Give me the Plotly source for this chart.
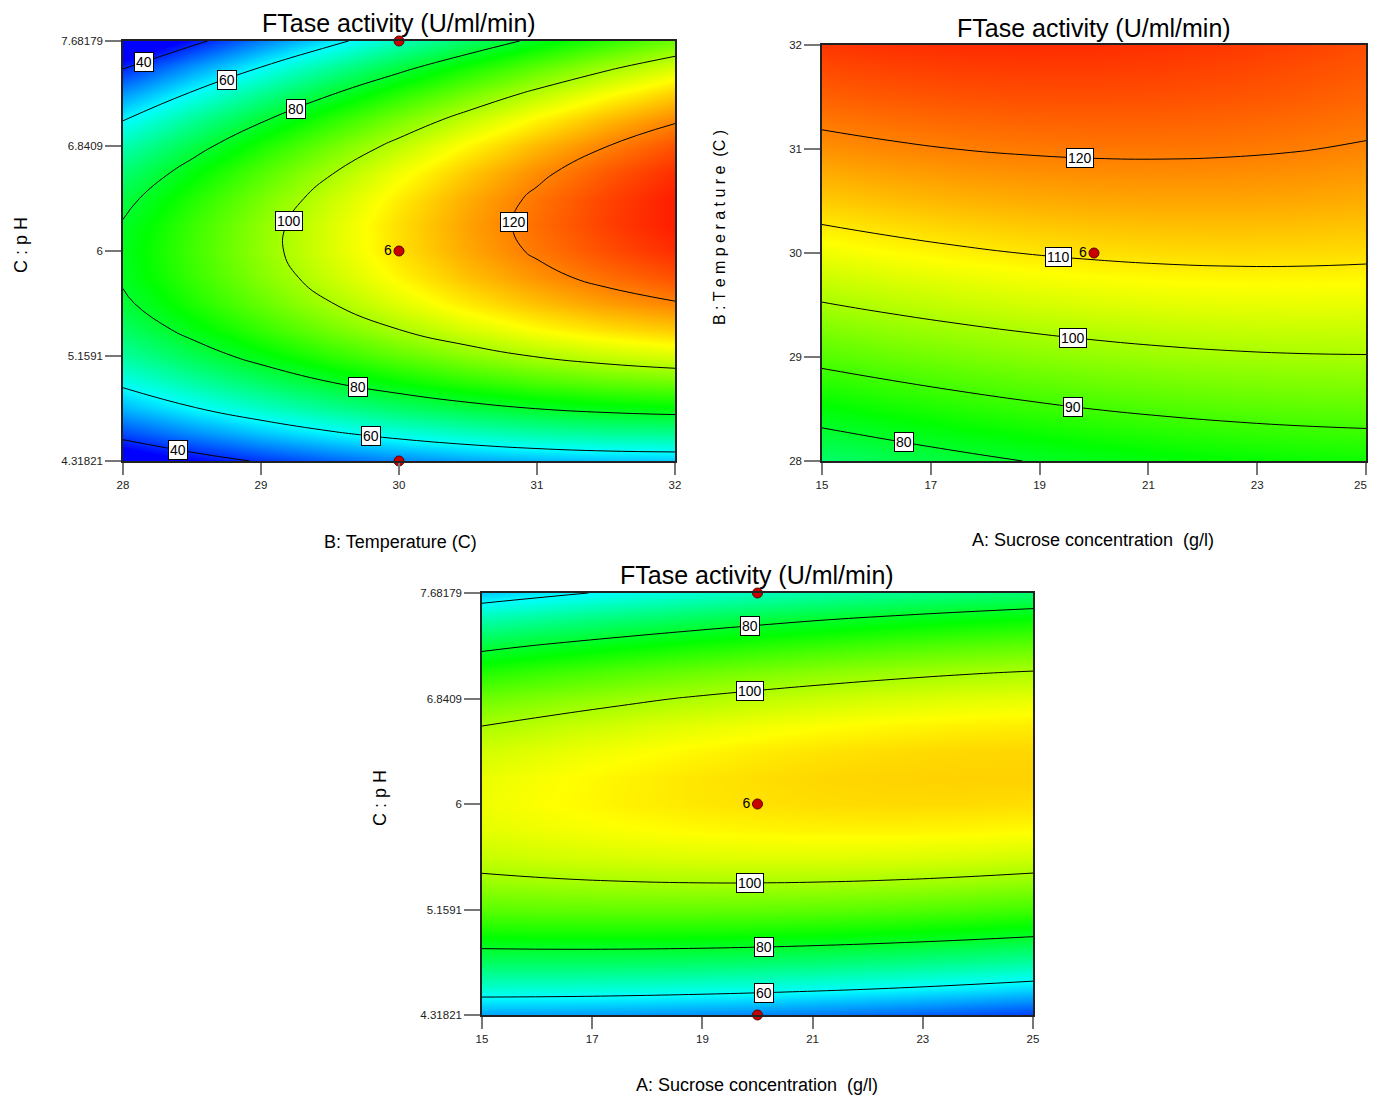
import numpy as np
import plotly.graph_objects as go

temperature_B = [28, 28.5, 29, 29.5, 30, 30.5, 31, 31.5, 32]
sucrose_A = [15, 16.25, 17.5, 18.75, 20, 21.25, 22.5, 23.75, 25]
ph_C_fine = [4.31821, 4.52843, 4.73866, 4.94888, 5.15910, 5.36933, 5.57955, 5.78978, 6.0,
             6.21022, 6.42045, 6.63067, 6.84090, 7.05112, 7.26134, 7.47157, 7.68179]

# FTase activity, rows = pH (low -> high), columns = temperature (28 -> 32), sucrose 20 g/l
activity_temp_ph = [
    [30.05, 35.82, 40.83, 45.07, 48.55, 51.27, 53.23, 54.42, 54.85],
    [42.32, 48.43, 53.77, 58.35, 62.16, 65.21, 67.51, 69.03, 69.80],
    [52.93, 59.37, 65.04, 69.96, 74.11, 77.49, 80.12, 81.98, 83.08],
    [61.87, 68.65, 74.66, 79.90, 84.39, 88.11, 91.07, 93.26, 94.70],
    [69.15, 76.26, 82.60, 88.18, 93.00, 97.06, 100.35, 102.88, 104.65],
    [74.76, 82.20, 88.88, 94.80, 99.95, 104.34, 107.97, 110.83, 112.94],
    [78.71, 86.48, 93.49, 99.74, 105.23, 109.96, 113.92, 117.12, 119.56],
    [80.99, 89.10, 96.44, 103.03, 108.85, 113.91, 118.20, 121.74, 124.51],
    [81.60, 90.04, 97.73, 104.64, 110.80, 116.19, 120.83, 124.69, 127.80],
    [80.55, 89.33, 97.34, 104.60, 111.09, 116.81, 121.78, 125.98, 129.42],
    [77.83, 86.94, 95.29, 102.88, 109.71, 115.77, 121.07, 125.61, 129.38],
    [73.45, 82.90, 91.58, 99.50, 106.66, 113.06, 118.69, 123.56, 127.67],
    [67.40, 77.18, 86.20, 94.46, 101.95, 108.68, 114.65, 119.86, 124.30],
    [59.69, 69.80, 79.16, 87.75, 95.57, 102.64, 108.94, 114.48, 119.26],
    [50.31, 60.76, 70.44, 79.37, 87.53, 94.93, 101.57, 107.44, 112.56],
    [39.26, 50.05, 60.07, 69.33, 77.82, 85.56, 92.53, 98.74, 104.19],
    [26.55, 37.67, 48.03, 57.62, 66.45, 74.52, 81.83, 88.37, 94.15],
]

# rows = temperature (28 -> 32), columns = sucrose (15 -> 25), pH 6
activity_sucrose_temp = [
    [74.09, 76.33, 78.33, 80.09, 81.60, 82.87, 83.90, 84.69, 85.23],
    [83.36, 85.39, 87.19, 88.74, 90.04, 91.11, 91.93, 92.51, 92.85],
    [91.87, 93.69, 95.28, 96.62, 97.73, 98.58, 99.20, 99.57, 99.71],
    [99.61, 101.23, 102.61, 103.75, 104.64, 105.30, 105.71, 105.87, 105.80],
    [106.59, 108.01, 109.18, 110.11, 110.80, 111.25, 111.45, 111.41, 111.13],
    [112.81, 114.02, 114.99, 115.71, 116.19, 116.43, 116.43, 116.19, 115.70],
    [118.27, 119.27, 120.03, 120.55, 120.83, 120.86, 120.65, 120.20, 119.51],
    [122.96, 123.76, 124.31, 124.62, 124.69, 124.52, 124.11, 123.45, 122.55],
    [126.89, 127.48, 127.83, 127.94, 127.80, 127.42, 126.80, 125.94, 124.83],
]

# rows = pH (low -> high), columns = sucrose (15 -> 25), temperature 30
activity_sucrose_ph = [
    [51.34, 51.01, 50.43, 49.61, 48.55, 47.25, 45.70, 43.91, 41.88],
    [64.08, 63.96, 63.60, 63.00, 62.16, 61.08, 59.75, 58.18, 56.37],
    [75.15, 75.25, 75.11, 74.73, 74.11, 73.24, 72.13, 70.78, 69.19],
    [84.55, 84.87, 84.95, 84.79, 84.39, 83.74, 82.85, 81.72, 80.34],
    [92.29, 92.83, 93.13, 93.19, 93.00, 92.57, 91.90, 90.99, 89.83],
    [98.36, 99.12, 99.64, 99.92, 99.95, 99.74, 99.29, 98.59, 97.65],
    [102.77, 103.75, 104.49, 104.98, 105.23, 105.24, 105.01, 104.53, 103.81],
    [105.51, 106.71, 107.67, 108.38, 108.85, 109.08, 109.06, 108.80, 108.30],
    [106.59, 108.01, 109.18, 110.11, 110.80, 111.25, 111.45, 111.41, 111.13],
    [106.00, 107.64, 109.03, 110.18, 111.09, 111.75, 112.17, 112.35, 112.29],
    [103.75, 105.60, 107.21, 108.58, 109.71, 110.59, 111.23, 111.63, 111.79],
    [99.83, 101.90, 103.73, 105.32, 106.66, 107.76, 108.62, 109.24, 109.62],
    [94.24, 96.53, 98.58, 100.39, 101.95, 103.27, 104.35, 105.19, 105.78],
    [86.99, 89.50, 91.77, 93.79, 95.57, 97.11, 98.41, 99.47, 100.28],
    [78.07, 80.80, 83.29, 85.53, 87.53, 89.29, 90.81, 92.08, 93.11],
    [67.49, 70.44, 73.14, 75.60, 77.82, 79.80, 81.54, 83.03, 84.28],
    [55.24, 58.41, 61.33, 64.01, 66.45, 68.65, 70.60, 72.31, 73.78],
]

# design points shown on each slice
design_temp = [30, 30, 30]
design_ph = [7.68179, 6.0, 4.31821]
design_sucrose = [20, 20, 20]
design_AB_sucrose = [20]
design_AB_temp = [30]
center_runs_label = ["", "6", ""]
center_runs_label_AB = ["6"]

ph_tickvals = [4.31821, 5.1591, 6.0, 6.8409, 7.68179]
ph_ticktext = ["4.31821", "5.1591", "6", "6.8409", "7.68179"]
temp_ticks = [28, 29, 30, 31, 32]
sucrose_ticks = [15, 17, 19, 21, 23, 25]
sucrose_ticktext = ["15", "17", "19", "21", "23", "25"]

TITLE = "FTase activity (U/ml/min)"

# ---------------- figure ----------------
# page body has an 8 px margin; size the figure so the page is exactly the window size
OFF = 8
W, H = 1377 - 2 * OFF, 1105 - 2 * OFF
FONT = "Liberation Sans, Arial, Helvetica, sans-serif"
colorscale = [[0.0, "rgb(0,0,255)"], [0.25, "rgb(0,255,255)"], [0.5, "rgb(0,255,0)"],
              [0.75, "rgb(255,255,0)"], [1.0, "rgb(255,0,0)"]]
ZMIN, ZMAX = 36, 132
TICKFONT = dict(family=FONT, size=11.5, color="#222")


def px_x(p):
    return (p - OFF) / W


def px_y(p):
    return 1 - (p - OFF) / H


fig = go.Figure()

panels = [
    dict(ax="", x=temperature_B, y=ph_C_fine, z=activity_temp_ph, levels=(40, 120, 20),
         dx=design_temp, dy=design_ph, dtext=center_runs_label),
    dict(ax="2", x=sucrose_A, y=temperature_B, z=activity_sucrose_temp, levels=(80, 120, 10),
         dx=design_AB_sucrose, dy=design_AB_temp, dtext=center_runs_label_AB),
    dict(ax="3", x=sucrose_A, y=ph_C_fine, z=activity_sucrose_ph, levels=(60, 120, 20),
         dx=design_sucrose, dy=design_ph, dtext=center_runs_label),
]

for p in panels:
    xa, ya = "x" + p["ax"], "y" + p["ax"]
    fig.add_trace(go.Heatmap(x=p["x"], y=p["y"], z=p["z"], colorscale=colorscale,
                             zmin=ZMIN, zmax=ZMAX, zsmooth="best", showscale=False,
                             hoverinfo="skip", xaxis=xa, yaxis=ya))
    s, e, st = p["levels"]
    fig.add_trace(go.Contour(x=p["x"], y=p["y"], z=p["z"],
                             contours=dict(coloring="none", start=s, end=e, size=st),
                             line=dict(color="black", width=1, smoothing=1.3),
                             showscale=False, hoverinfo="skip", xaxis=xa, yaxis=ya))
    fig.add_trace(go.Scatter(x=p["dx"], y=p["dy"], mode="markers+text", text=p["dtext"],
                             textposition="middle left",
                             textfont=dict(family=FONT, size=14, color="black"),
                             marker=dict(size=10, color="rgb(200,0,0)",
                                         line=dict(color="rgb(90,0,0)", width=1)),
                             cliponaxis=False, showlegend=False, hoverinfo="skip",
                             xaxis=xa, yaxis=ya))


def contour_y(xs, ys, z, level, x, branch):
    col = [np.interp(x, xs, row) for row in z]
    hits = []
    for i in range(len(ys) - 1):
        z0, z1 = col[i], col[i + 1]
        if (z0 - level) * (z1 - level) < 0:
            hits.append(ys[i] + (level - z0) / (z1 - z0) * (ys[i + 1] - ys[i]))
    return max(hits) if branch == "upper" else min(hits)


label_specs = [
    (0, 40, 28.15, "upper"), (0, 60, 28.75, "upper"), (0, 80, 29.25, "upper"),
    (0, 100, 29.2, "upper"), (0, 120, 30.83, "upper"), (0, 80, 29.7, "lower"),
    (0, 60, 29.8, "lower"), (0, 40, 28.4, "lower"),
    (1, 120, 19.74, "upper"), (1, 110, 19.35, "upper"), (1, 100, 19.62, "upper"),
    (1, 90, 19.62, "upper"), (1, 80, 16.5, "upper"),
    (2, 80, 19.86, "upper"), (2, 100, 19.86, "upper"), (2, 100, 19.86, "lower"),
    (2, 80, 20.12, "lower"), (2, 60, 20.12, "lower"),
]

annotations = []
for idx, level, xl, br in label_specs:
    p = panels[idx]
    yl = contour_y(p["x"], p["y"], p["z"], level, xl, br)
    annotations.append(dict(x=xl, y=yl, xref="x" + p["ax"], yref="y" + p["ax"],
                            text=str(level), showarrow=False,
                            font=dict(family=FONT, size=14, color="black"),
                            bgcolor="white", bordercolor="black", borderwidth=1,
                            borderpad=1))

# last tick label of the top-right x axis sits at the page edge: draw it nudged inward
annotations.append(dict(x=sucrose_ticks[-1], y=px_y(485), xref="x2", yref="paper",
                        text=sucrose_ticktext[-1], showarrow=False, xshift=-6,
                        xanchor="center", yanchor="middle", font=TICKFONT))

# titles
for cx, cy in [(399, 23), (1094, 28), (757, 575)]:
    annotations.append(dict(x=px_x(cx), y=px_y(cy), xref="paper", yref="paper",
                            text=TITLE, showarrow=False, xanchor="center", yanchor="middle",
                            font=dict(family=FONT, size=25, color="black")))
# x axis titles
for txt, cx, cy in [("B: Temperature (C)", 400, 542),
                    ("A: Sucrose concentration \u00a0(g/l)", 1093, 540),
                    ("A: Sucrose concentration \u00a0(g/l)", 757, 1085)]:
    annotations.append(dict(x=px_x(cx), y=px_y(cy), xref="paper", yref="paper",
                            text=txt, showarrow=False, xanchor="center", yanchor="middle",
                            font=dict(family=FONT, size=18, color="black")))
# y axis titles
for txt, cx, cy, fs in [("C : p H", 21, 245, 18),
                        ("B : T e m p e r a t u r e \u00a0(C )", 720, 228, 16),
                        ("C : p H", 380, 798, 18)]:
    annotations.append(dict(x=px_x(cx), y=px_y(cy), xref="paper", yref="paper",
                            text=txt, showarrow=False, textangle=-90,
                            xanchor="center", yanchor="middle",
                            font=dict(family=FONT, size=fs, color="black")))

axis_common = dict(showgrid=False, zeroline=False, showline=True, linecolor="#222",
                   linewidth=1.5, mirror=True, ticks="outside", tickwidth=2,
                   tickcolor="#777", automargin=False, tickfont=TICKFONT)

fig.update_layout(
    width=W, height=H, autosize=False,
    margin=dict(l=0, r=0, t=0, b=0, pad=0),
    paper_bgcolor="white", plot_bgcolor="white",
    showlegend=False,
    annotations=annotations,
    xaxis=dict(domain=[px_x(123), px_x(675)], range=[28, 32], tickvals=temp_ticks,
               ticklen=12, anchor="y", **axis_common),
    yaxis=dict(domain=[px_y(461), px_y(41)], range=[4.31821, 7.68179], tickvals=ph_tickvals,
               ticktext=ph_ticktext, ticklen=16, anchor="x", **axis_common),
    xaxis2=dict(domain=[px_x(822), px_x(1366)], range=[15, 25], tickvals=sucrose_ticks,
                ticktext=sucrose_ticktext[:-1] + [""],
                ticklen=12, anchor="y2", **axis_common),
    yaxis2=dict(domain=[px_y(461), px_y(45)], range=[28, 32], tickvals=temp_ticks,
                ticklen=16, anchor="x2", **axis_common),
    xaxis3=dict(domain=[px_x(482), px_x(1033)], range=[15, 25], tickvals=sucrose_ticks,
                ticktext=sucrose_ticktext, ticklen=12, anchor="y3", **axis_common),
    yaxis3=dict(domain=[px_y(1015), px_y(593)], range=[4.31821, 7.68179], tickvals=ph_tickvals,
                ticktext=ph_ticktext, ticklen=16, anchor="x3", **axis_common),
)

fig.write_html("out.html")
